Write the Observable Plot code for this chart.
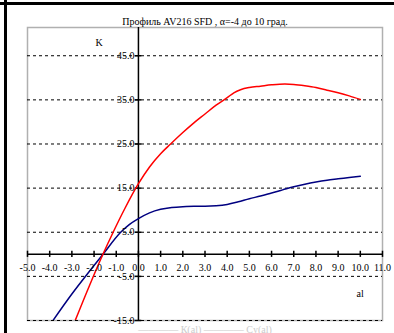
<!DOCTYPE html>
<html>
<head>
<meta charset="utf-8">
<script src="https://cdn.jsdelivr.net/npm/d3@7"></script>
<script src="https://cdn.jsdelivr.net/npm/@observablehq/plot@0.6"></script>
<style>
  html, body { margin: 0; padding: 0; background: #fff; }
  #wrap { position: relative; width: 394px; height: 333px; overflow: hidden; }
  #hline { position: absolute; left: 0; top: 2px; width: 394px; height: 3px; background: #000; }
  #vline { position: absolute; left: 4px; top: 0; width: 3px; height: 333px; background: #000; }
  svg { font-family: "Liberation Serif", "DejaVu Serif", serif; }
</style>
</head>
<body>
<div id="wrap"><div id="chart"></div><div id="hline"></div><div id="vline"></div></div>
<script>
const title = "Профиль AV216 SFD , α=-4 до 10 град.";
const yLabel = "K";
const xLabel = "al";
const caption = "———— К(al) ———— Cy(al)";

const xTicks = [-5, -4, -3, -2, -1, 0, 1, 2, 3, 4, 5, 6, 7, 8, 9, 10, 11];
const yTicks = [45, 35, 25, 15, 5, -5, -15];

const redAl = [-2.85, -2.2, -1.6, -1.14, -0.6, 0, 0.5, 1.0, 1.45, 2.0, 2.5, 3.0, 3.5, 4.0, 4.3, 4.6, 5.0, 5.5, 6.0, 6.6, 7.0, 7.5, 8.0, 8.5, 9.0, 9.5, 10.0];
const redK  = [-15, -7, 0, 5, 10.5, 16, 19.8, 22.8, 25, 27.6, 29.8, 31.8, 33.8, 35.5, 36.6, 37.3, 37.8, 38.1, 38.4, 38.6, 38.5, 38.2, 37.8, 37.2, 36.6, 35.9, 35.1];

const blueAl = [-3.85, -3.0, -2.2, -1.6, -0.8, -0.4, 0, 0.5, 1.0, 1.5, 2.0, 2.5, 3.0, 3.5, 4.0, 4.5, 5.0, 5.5, 6.0, 6.5, 7.0, 7.5, 8.0, 8.5, 9.0, 9.5, 10.0];
const blueK  = [-15, -9, -3.8, 0, 5, 6.8, 8.1, 9.4, 10.2, 10.6, 10.8, 10.9, 10.9, 11.0, 11.3, 11.9, 12.6, 13.2, 13.9, 14.6, 15.3, 15.9, 16.4, 16.8, 17.1, 17.4, 17.7];

const red = redAl.map((a, i) => ({al: a, k: redK[i]}));
const blue = blueAl.map((a, i) => ({al: a, k: blueK[i]}));

const chart = Plot.plot({
  width: 394,
  height: 333,
  marginLeft: 27,
  marginRight: 12,
  marginTop: 27,
  marginBottom: 13,
  style: {fontFamily: "Liberation Serif, serif", fontSize: "10px", background: "#fff", overflow: "visible"},
  x: {domain: [-5, 11], axis: null},
  y: {domain: [-15, 51.4], axis: null},
  marks: [
    Plot.frame({stroke: "#b0b0b0", strokeWidth: 1.5}),
    Plot.ruleY(yTicks, {y: d => d, stroke: "#000", strokeWidth: 1, strokeDasharray: "3,3"}),
    Plot.ruleX([0], {stroke: "#000", strokeWidth: 1.5}),
    Plot.ruleY([0], {stroke: "#000", strokeWidth: 1.5}),
    Plot.ruleX(xTicks, {x: d => d, y1: -0.7, y2: 0.7, stroke: "#000", strokeWidth: 1.5}),
    Plot.ruleY(yTicks, {y: d => d, x1: -0.15, x2: 0.15, stroke: "#000", strokeWidth: 1.5}),
    Plot.line(blue, {x: "al", y: "k", stroke: "#000080", strokeWidth: 1.5, curve: "monotone-x", clip: true}),
    Plot.line(red, {x: "al", y: "k", stroke: "#ff0000", strokeWidth: 1.5, curve: "monotone-x", clip: true}),
    Plot.text(xTicks, {x: d => d, y: 0, text: d => d.toFixed(1), dy: 13, fill: "#000"}),
    Plot.text(yTicks, {x: 0, y: d => d, text: d => d.toFixed(1), textAnchor: "end", dx: -4, fill: "#000"}),
    Plot.text([title], {frameAnchor: "top", dy: -10, fill: "#000"}),
    Plot.text([yLabel], {frameAnchor: "top-left", dx: 68, dy: 11, fill: "#000"}),
    Plot.text([xLabel], {frameAnchor: "top-left", dx: 329, dy: 262, fill: "#000"}),
    Plot.text([caption], {frameAnchor: "bottom", dy: 12, fill: "#ccc"})
  ]
});
document.getElementById("chart").appendChild(chart);
</script>
</body>
</html>
